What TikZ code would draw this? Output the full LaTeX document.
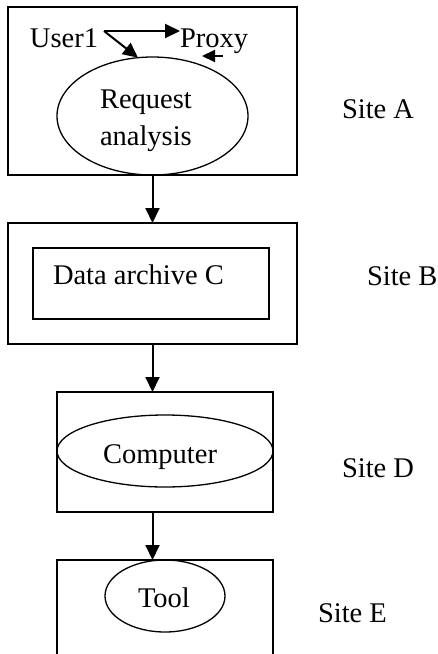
\documentclass[tikz,border=0pt]{standalone}
\usepackage{fontspec}
\setmainfont{Liberation Serif}
\usetikzlibrary{arrows.meta,shapes.geometric}
\begin{document}
\begin{tikzpicture}[x=1pt,y=-1pt,
  sitebox/.style={draw,line width=2pt,rectangle,inner sep=0pt,outer sep=0pt},
  innerbox/.style={draw,line width=1.5pt,rectangle,inner sep=0pt,outer sep=0pt},
  oval/.style={draw,line width=1.3pt,ellipse,inner sep=0pt,outer sep=0pt},
  txt/.style={anchor=base west,inner sep=0pt,outer sep=0pt,font=\fontsize{28.5}{34}\selectfont},
  flow/.style={line width=2pt,-{Triangle[length=15pt,width=14pt]}},
  small/.style={line width=2pt,-{Triangle[length=15pt,width=14pt]}},
  tiny/.style={line width=2pt,-{Triangle[length=13pt,width=12pt]}}]
\useasboundingbox (0,0) rectangle (438,654);
\clip (0,0) rectangle (438,654);
% Site A
\node[sitebox,minimum width=289pt,minimum height=168pt] (boxA) at (152.5,91) {};
\node[oval,minimum width=191pt,minimum height=118pt] (ellA) at (152.5,116) {};
\node[txt] (req) at (100,108) {Request};
\node[txt] (ana) at (100,145) {analysis};
\node[txt] (user) at (30,47) {User1};
\node[txt] (proxy) at (180,47) {Proxy};
\coordinate (fork) at (104,31);
\draw[small] (fork) -- (proxy.west |- fork);
\draw[small] (fork) -- (ellA.104);
\coordinate (pin) at (223,56);
\coordinate (pend) at (202,56);
\draw[tiny] (pin) -- (pend);
\node[txt] (siteA) at (342,118) {Site A};
% Site B
\node[sitebox,minimum width=289pt,minimum height=121pt] (boxB) at (152.5,283.5) {};
\node[innerbox,minimum width=236pt,minimum height=71pt] (boxC) at (151,283.5) {};
\node[txt] (dataC) at (53,284) {Data archive C};
\node[txt] (siteB) at (367,285) {Site B};
\draw[flow] (boxA.south) -- (boxB.north);
% Site D
\node[sitebox,minimum width=216pt,minimum height=120pt] (boxD) at (165,452) {};
\node[oval,minimum width=216pt,minimum height=72pt] (ellD) at (165,451) {};
\node[txt] (comp) at (103,463) {Computer};
\node[txt] (siteD) at (342,477) {Site D};
\draw[flow] (boxB.south) -- (boxB.south |- boxD.north);
% Site E
\node[sitebox,minimum width=216pt,minimum height=120pt] (boxE) at (165,620) {};
\node[oval,minimum width=120pt,minimum height=72pt] (ellE) at (165,596) {};
\node[txt] (tool) at (138,607) {Tool};
\node[txt] (siteE) at (318,622) {Site E};
\draw[flow] (boxD.south -| boxB.south) -- (boxB.south |- boxE.north);
\end{tikzpicture}
\end{document}
